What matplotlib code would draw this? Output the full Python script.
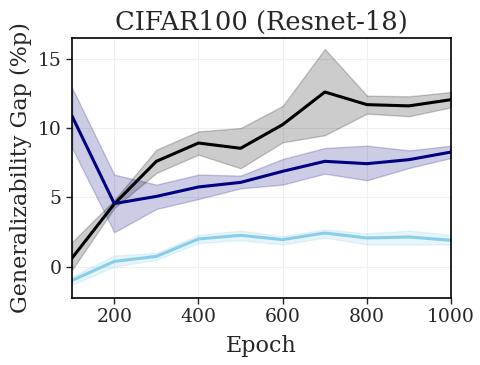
import numpy as np
import matplotlib
matplotlib.use("Agg")
import matplotlib.pyplot as plt

epochs = [100, 200, 300, 400, 500, 600, 700, 800, 900, 1000]

black_mean = [0.63, 4.52, 7.6, 8.92, 8.54, 10.25, 12.6, 11.69, 11.6, 12.05]
black_hi = [1.78, 4.8, 8.44, 9.76, 10.0, 11.6, 15.7, 12.34, 12.29, 12.6]
black_lo = [-0.22, 4.23, 6.76, 8.08, 7.1, 8.97, 9.48, 11.04, 10.85, 11.5]

navy_mean = [10.85, 4.55, 5.07, 5.75, 6.08, 6.88, 7.6, 7.43, 7.72, 8.27]
navy_hi = [12.89, 6.64, 5.92, 6.64, 6.57, 7.77, 8.56, 8.73, 8.39, 8.73]
navy_lo = [8.56, 2.48, 4.16, 4.88, 5.65, 5.92, 6.71, 6.23, 7.12, 7.84]

sky_mean = [-0.99, 0.38, 0.74, 2.0, 2.26, 1.95, 2.43, 2.07, 2.14, 1.9]
sky_hi = [-0.7, 0.8, 1.0, 2.3, 2.6, 2.2, 2.7, 2.4, 2.6, 2.3]
sky_lo = [-1.3, 0.0, 0.5, 1.7, 1.9, 1.6, 2.1, 1.6, 1.6, 1.6]

plt.rcParams['font.family'] = 'DejaVu Serif'
plt.rcParams['text.color'] = '#262626'
plt.rcParams['axes.labelcolor'] = '#262626'

fig, ax = plt.subplots(figsize=(4.81, 3.65), dpi=100)

series = [
    (black_mean, black_lo, black_hi, 'black'),
    (navy_mean, navy_lo, navy_hi, 'navy'),
    (sky_mean, sky_lo, sky_hi, 'skyblue'),
]
for mean, lo, hi, c in series:
    ax.fill_between(epochs, lo, hi, color=c, alpha=0.2, edgecolor=c, linewidth=1)
    ax.plot(epochs, mean, color=c, linewidth=2.2)

ax.set_xlim(100, 1000)
ax.set_ylim(-2.25, 16.5)
ax.set_xticks([200, 400, 600, 800, 1000])
ax.set_yticks([0, 5, 10, 15])
ax.grid(True, color='#efefef', linewidth=0.8)
ax.set_axisbelow(True)
for s in ax.spines.values():
    s.set_color('black')
    s.set_linewidth(1.2)
ax.tick_params(labelsize=13.5, length=4, width=1, colors='#262626')

ax.set_title('CIFAR100 (Resnet-18)', fontsize=18.5)
ax.set_xlabel('Epoch', fontsize=16, labelpad=6)
ax.set_ylabel('Generalizability Gap (%p)', fontsize=16)

fig.subplots_adjust(left=0.15, right=0.938, top=0.896, bottom=0.184)
fig.savefig('out.png', dpi=100)
